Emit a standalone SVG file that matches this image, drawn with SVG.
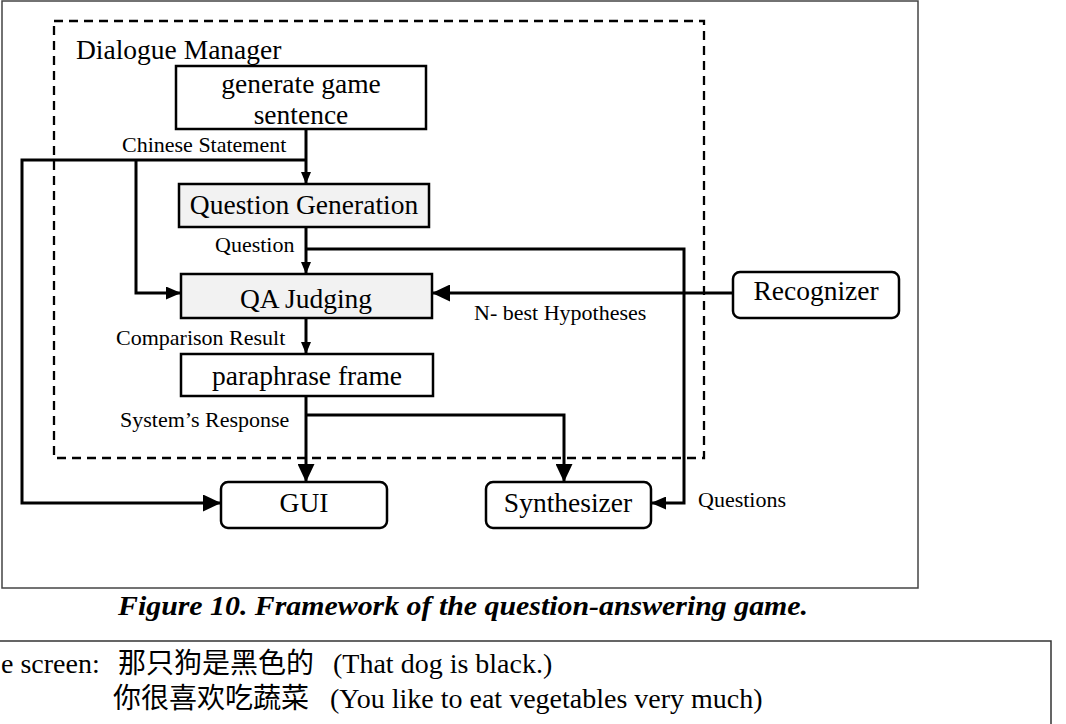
<svg xmlns="http://www.w3.org/2000/svg" width="1066" height="724" viewBox="0 0 1066 724">
<style>
.box{fill:#fff;stroke:#000;stroke-width:2.5}
.gray{fill:#f2f2f2;stroke:#000;stroke-width:2.5}
.big{font-family:"Liberation Serif","Times New Roman",serif;font-size:27.5px;fill:#000}
.lbl{font-family:"Liberation Serif","Times New Roman",serif;font-size:22px;fill:#000}
.ln{fill:none;stroke:#000;stroke-width:3}
.cap{font-family:"Liberation Serif","Times New Roman",serif;font-size:28px;font-weight:bold;font-style:italic;fill:#000}
.bt{font-family:"Liberation Serif","Noto Sans CJK SC",serif;font-size:28px;fill:#000}
</style>
<defs>
<marker id="aS" markerUnits="userSpaceOnUse" markerWidth="12" markerHeight="12" viewBox="0 0 12 10" refX="12" refY="5" orient="auto"><path d="M0,0 L12,5 L0,10 Z" fill="#000"/></marker>
<marker id="aM" markerUnits="userSpaceOnUse" markerWidth="15" markerHeight="13" viewBox="0 0 15 13" refX="15" refY="6.5" orient="auto"><path d="M0,0 L15,6.5 L0,13 Z" fill="#000"/></marker>
<marker id="aL" markerUnits="userSpaceOnUse" markerWidth="18" markerHeight="17" viewBox="0 0 18 17" refX="18" refY="8.5" orient="auto"><path d="M0,0 L18,8.5 L0,17 Z" fill="#000"/></marker>
</defs>
<rect width="1066" height="724" fill="#fff"/>
<g id="frame">
<rect x="2" y="1" width="916" height="587" fill="none" stroke="#444" stroke-width="1.5"/>
</g>
<g id="dialogue-manager">
<rect x="54" y="21" width="650" height="437" fill="none" stroke="#000" stroke-width="2.3" stroke-dasharray="9,6"/>
<text class="big" x="76" y="59">Dialogue Manager</text>
</g>
<g id="connectors">
<path class="ln" d="M306,129 V184" marker-end="url(#aS)"/>
<path class="ln" d="M306,160 H22 V503 H221" marker-end="url(#aL)"/>
<path class="ln" d="M136,160 V293 H181" marker-end="url(#aM)"/>
<path class="ln" d="M306,227 V274" marker-end="url(#aS)"/>
<path class="ln" d="M306,249 H684 V503 H651" marker-end="url(#aM)"/>
<path class="ln" d="M733,293 H432" marker-end="url(#aL)"/>
<path class="ln" d="M306,318 V354" marker-end="url(#aS)"/>
<path class="ln" d="M306,396 V482" marker-end="url(#aL)"/>
<path class="ln" d="M306,415 H564 V482" marker-end="url(#aL)"/>
<text class="lbl" x="122" y="152">Chinese Statement</text>
<text class="lbl" x="215" y="252">Question</text>
<text class="lbl" x="116" y="345">Comparison Result</text>
<text class="lbl" x="120" y="427">System’s Response</text>
<text class="lbl" x="474" y="320">N- best Hypotheses</text>
<text class="lbl" x="698" y="507">Questions</text>
</g>
<g id="generate">
<rect class="box" x="176" y="66" width="250" height="63"/>
<text class="big" x="301" y="93" text-anchor="middle">generate game</text>
<text class="big" x="301" y="124" text-anchor="middle">sentence</text>
</g>
<g id="question-generation">
<rect class="gray" x="179" y="184" width="250" height="43"/>
<text class="big" x="304" y="214" text-anchor="middle">Question Generation</text>
</g>
<g id="qa-judging">
<rect class="gray" x="181" y="274" width="251" height="44"/>
<text class="big" x="306" y="308" text-anchor="middle">QA Judging</text>
</g>
<g id="paraphrase">
<rect class="box" x="181" y="354" width="252" height="42"/>
<text class="big" x="307" y="385" text-anchor="middle">paraphrase frame</text>
</g>
<g id="recognizer">
<rect class="box" x="733" y="272" width="166" height="46" rx="7"/>
<text class="big" x="816" y="300" text-anchor="middle">Recognizer</text>
</g>
<g id="gui">
<rect class="box" x="221" y="482" width="166" height="46" rx="7"/>
<text class="big" x="304" y="512" text-anchor="middle">GUI</text>
</g>
<g id="synthesizer">
<rect class="box" x="486" y="482" width="165" height="46" rx="7"/>
<text class="big" x="568" y="512" text-anchor="middle">Synthesizer</text>
</g>
<g id="caption">
<text class="cap" x="118" y="615" textLength="690" lengthAdjust="spacingAndGlyphs">Figure 10. Framework of the question-answering game.</text>
</g>
<g id="example">
<path d="M-2,641 H1051 V726" fill="none" stroke="#333" stroke-width="1.5"/>
<text class="bt" x="1" y="673">e screen:</text>
<text class="bt" x="118" y="673">那只狗是黑色的</text>
<text class="bt" x="333" y="673">(That dog is black.)</text>
<text class="bt" x="113" y="708">你很喜欢吃蔬菜</text>
<text class="bt" x="330" y="708">(You like to eat vegetables very much)</text>
</g>
</svg>
